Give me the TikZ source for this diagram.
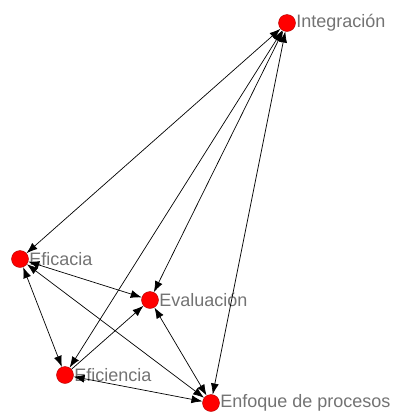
\documentclass[tikz,border=0pt]{standalone}
\usepackage{fontspec}
\setmainfont{Liberation Sans}
\usetikzlibrary{arrows.meta}

\begin{document}
\begin{tikzpicture}[x=1pt,y=-1pt,
  punto/.style={circle,fill=red,draw=red!70!black,line width=0.4pt,minimum size=17pt,inner sep=0pt},
  etiq/.style={text=black!55,font=\fontsize{18}{20}\selectfont,inner sep=0.5pt},
  flecha/.style={line width=0.7pt,{Latex[length=11pt,width=8pt]}-{Latex[length=11pt,width=8pt]}},
  flechauna/.style={line width=0.7pt,-{Latex[length=11pt,width=8pt]}}]
\useasboundingbox (0,0) rectangle (407,413);
\node[punto,label={[etiq]right:Integración}] (Int) at (287,23) {};
\node[punto,label={[etiq]right:Eficacia}] (Efa) at (20,259) {};
\node[punto,label={[etiq]right:Evaluación}] (Eva) at (150,300) {};
\node[punto,label={[etiq]right:Eficiencia}] (Efi) at (65,375) {};
\node[punto,label={[etiq]right:Enfoque de procesos}] (Enf) at (211,403) {};

% desde Integracion
\draw[flecha] (Int) -- (Efa);
\draw[flecha] (Int) -- (Efi);
\draw[flecha] (Int) -- (Eva);
\draw[flecha] (Int) -- (Enf);
% entre los de abajo
\draw[flecha] (Efa) -- (Eva);
\draw[flecha] (Efa) -- (Efi);
\draw[flecha] (Efa) -- (Enf);
\draw[flechauna] (Efi) -- (Eva);
\draw[flecha] (Efi) -- (Enf);
\draw[flecha] (Enf) -- (Eva);
\end{tikzpicture}
\end{document}
